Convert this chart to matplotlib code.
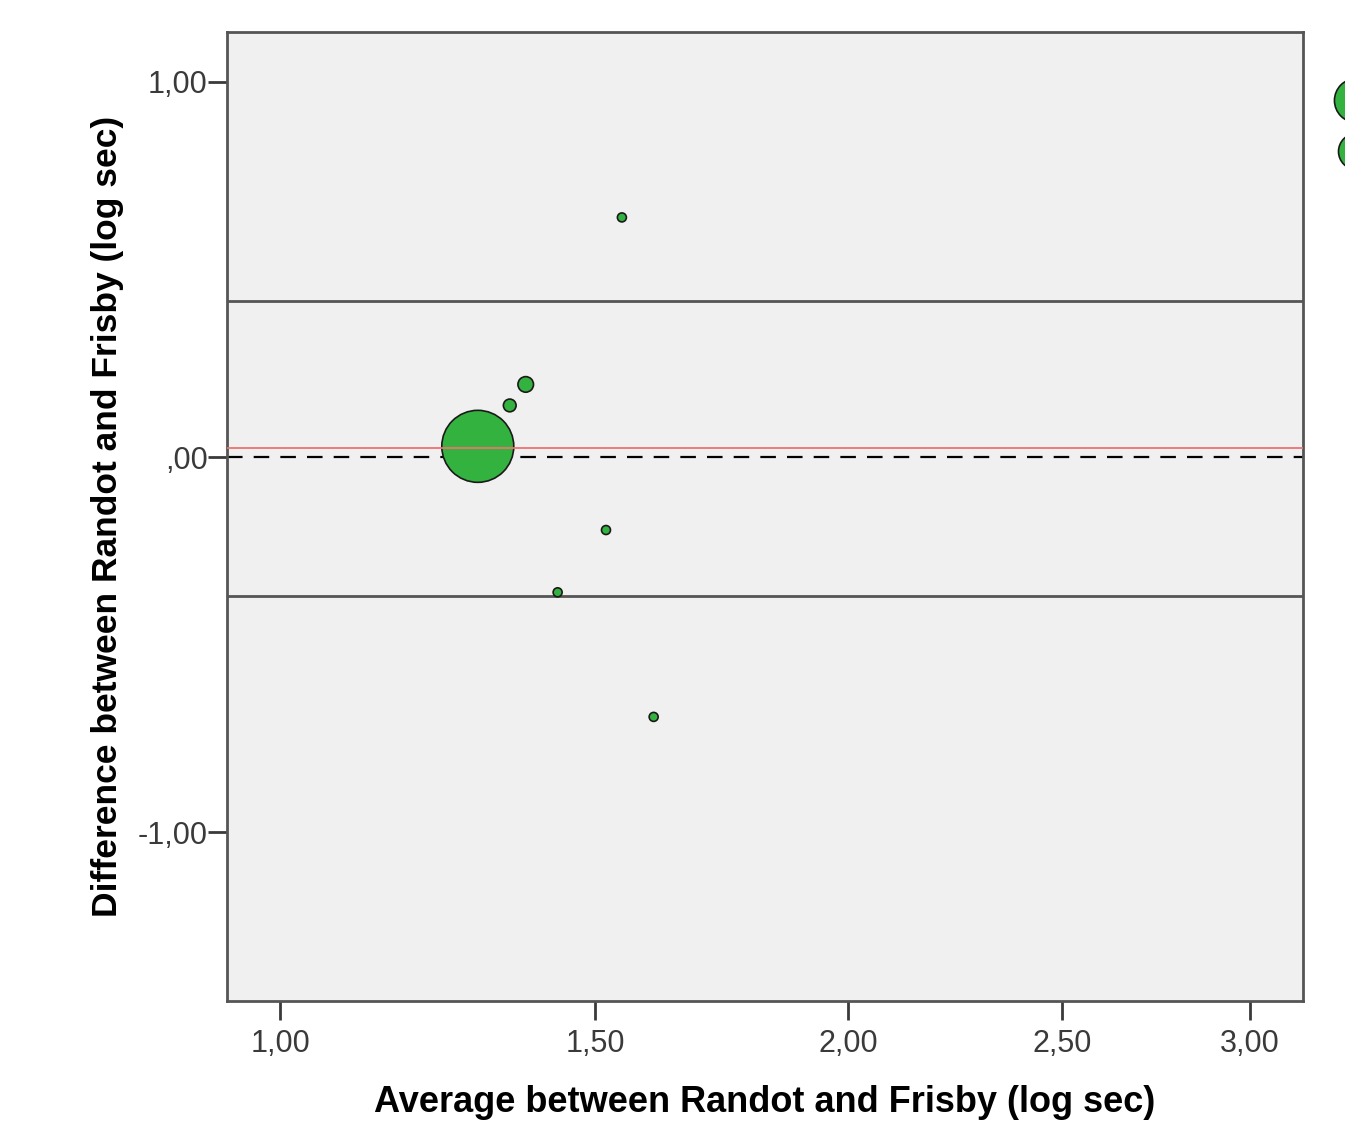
import numpy as np
import matplotlib.pyplot as plt
from matplotlib.lines import Line2D

plt.rcParams['font.family'] = ['Liberation Sans', 'DejaVu Sans']

# Bland-Altman data
avg = [1.548, 1.378, 1.351, 1.298, 1.519, 1.433, 1.607]
diff = [0.639, 0.194, 0.138, 0.029, -0.194, -0.360, -0.692]
counts = [1, 3, 2, 64, 1, 1, 1]

mean_diff = 0.024
upper_loa = 0.415
lower_loa = -0.370

legend_counts = [24, 16]

x_ticks = [1.0, 1.5, 2.0, 2.5, 3.0]
x_labels = ['1,00', '1,50', '2,00', '2,50', '3,00']
y_ticks = [1.0, 0.0, -1.0]
y_labels = ['1,00', ',00', '-1,00']

POW = 0.35


def fwd(x):
    return np.sign(x) * np.abs(x) ** POW


def inv(t):
    return np.sign(t) * np.abs(t) ** (1 / POW)


def bubble_size(n):
    return 42 * np.asarray(n, dtype=float)


fig = plt.figure(figsize=(13.45, 11.28), dpi=100)
ax = fig.add_axes([0.1688, 0.1126, 0.8, 0.859])
ax.set_facecolor('#f0f0f0')
ax.set_xscale('function', functions=(fwd, inv))
ax.set_xlim(0.9285, 3.152)
ax.set_ylim(-1.449, 1.133)

ax.axhline(upper_loa, color='#555555', lw=2, zorder=1)
ax.axhline(lower_loa, color='#555555', lw=2, zorder=1)
ax.axhline(0, color='black', lw=1.6, ls=(0, (7, 5)), zorder=1)
ax.axhline(mean_diff, color='#f07070', lw=1.3, zorder=3)

ax.scatter(avg, diff, s=bubble_size(counts), facecolor='#33b23f',
           edgecolor='#1a1a1a', linewidth=1.2, zorder=2)

ax.set_xticks(x_ticks)
ax.set_xticklabels(x_labels)
ax.set_yticks(y_ticks)
ax.set_yticklabels(y_labels)
ax.minorticks_off()
ax.tick_params(axis='both', labelsize=22, colors='#3a3a3a', length=14,
               width=2, direction='out', pad=0)
ax.tick_params(axis='x', pad=6)
for sp in ax.spines.values():
    sp.set_color('#555555')
    sp.set_linewidth(2)

ax.set_xlabel('Average between Randot and Frisby (log sec)', fontsize=26,
              fontweight='bold', labelpad=19)
ax.set_ylabel('Difference between Randot and Frisby (log sec)', fontsize=25.5,
              fontweight='bold', labelpad=10)

# bubble-size legend, cut off at the right edge as in the original
handles = [Line2D([], [], ls='none', marker='o',
                  markersize=np.sqrt(bubble_size(n)),
                  markerfacecolor='#33b23f', markeredgecolor='#1a1a1a',
                  markeredgewidth=1.2) for n in legend_counts]
ax.legend(handles, ['', ''], loc='upper left',
          bbox_to_anchor=(1.0, 0.966), frameon=False, fontsize=20,
          labelspacing=0.9, handletextpad=0.8, borderpad=0.4)

fig.savefig('out.png', dpi=100)
